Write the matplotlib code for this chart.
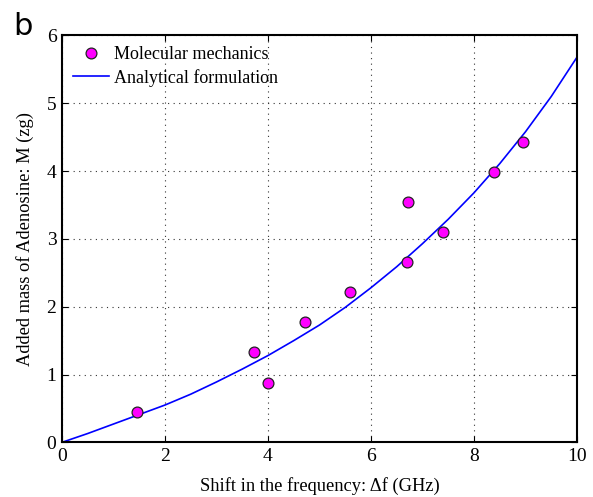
import numpy as np
import matplotlib
matplotlib.use('Agg')
import matplotlib.pyplot as plt

plt.rc('font', family='Liberation Serif')
plt.rc('xtick', labelsize=14, direction='in', top=True)
plt.rc('ytick', labelsize=14, direction='in', right=True)
plt.rc('axes', labelsize=13.3)

# molecular mechanics points (shift in GHz, added mass in zg)
md_shift = [1.46, 3.72, 4.01, 4.72, 5.60, 6.69, 6.72, 7.40, 8.39, 8.96]
md_mass = [0.44, 1.33, 0.88, 1.77, 2.22, 2.66, 3.55, 3.10, 3.99, 4.43]

# analytical curve
curve_shift = [0.0, 0.5, 1.0, 1.5, 2.0, 2.5, 3.0, 3.5, 4.0, 4.5, 5.0,
               5.5, 6.0, 6.5, 7.0, 7.5, 8.0, 8.5, 9.0, 9.5, 10.0]
curve_mass = [0.0, 0.13, 0.27, 0.41, 0.55, 0.71, 0.89, 1.08, 1.28, 1.50, 1.73,
              1.99, 2.28, 2.59, 2.93, 3.29, 3.68, 4.11, 4.58, 5.10, 5.68]

fig = plt.figure(figsize=(5.93, 4.97), dpi=100)
ax = fig.add_axes([0.1045, 0.110, 0.8685, 0.8186])

ax.plot(md_shift, md_mass, 'o', color='#ff00ff', markeredgecolor='#222222',
        markeredgewidth=0.9, markersize=7.8, label='Molecular mechanics', zorder=3)
ax.plot(curve_shift, curve_mass, '-', color='#0000ff', lw=1.2,
        label='Analytical formulation', zorder=2)

ax.set_xlim(0, 10)
ax.set_ylim(0, 6)
ax.set_xticks(np.arange(0, 11, 2))
ax.set_yticks(np.arange(0, 7, 1))
ax.grid(True, color='#333333', linestyle=(0, (1, 4)), linewidth=0.8)
ax.tick_params(length=4, width=0.8, pad=4)
for s in ax.spines.values():
    s.set_linewidth(1.5)

ax.set_xlabel('Shift in the frequency: \u0394f (GHz)', labelpad=9)
ax.set_ylabel('Added mass of Adenosine: M (zg)', labelpad=9)

ax.legend(loc='upper left', frameon=False, fontsize=13, handlelength=2.0,
          handletextpad=0.3, borderaxespad=0.2, labelspacing=0.3,
          bbox_to_anchor=(0.0, 1.0))

fig.text(0.022, 0.93, 'b', fontsize=22, family='DejaVu Sans')

fig.savefig('out.png', dpi=100)
